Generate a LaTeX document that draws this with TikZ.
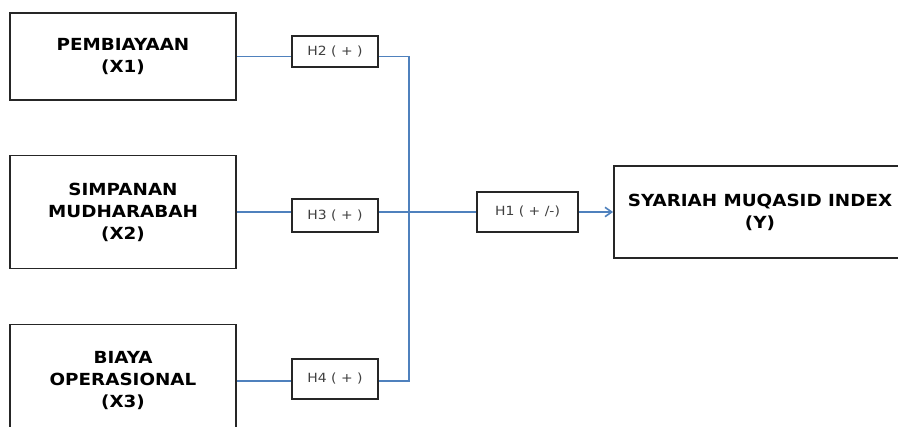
\documentclass[tikz,border=0pt]{standalone}
\usepackage{fontspec}
\setmainfont{DejaVu Sans}[FakeStretch=1.1]
\usepackage{xcolor}
\usetikzlibrary{arrows.meta, positioning}
\definecolor{lineblue}{HTML}{4F81BD}

\begin{document}
\begin{tikzpicture}[x=0.75pt, y=-0.75pt, >={Straight Barb[length=5pt, width=7pt]},
  varbox/.style={draw=black!85, line width=1.4pt, fill=white, align=center,
    font=\fontsize{12.5}{16.5}\selectfont\bfseries},
  hypbox/.style={draw=black!85, line width=1.4pt, fill=white, minimum width=64.5pt,
    font=\fontsize{9.5}{11}\selectfont, text=black!75},
  link/.style={draw=lineblue, line width=1.2pt}]
  \useasboundingbox (0,0) rectangle (898,427);

  % variables
  \node[varbox, minimum width=169.5pt, minimum height=65.25pt] (x1) at (123,56.5) {PEMBIAYAAN\\(X1)};
  \node[varbox, minimum width=169.5pt, minimum height=84.75pt] (x2) at (123,212) {SIMPANAN\\MUDHARABAH\\(X2)};
  \node[varbox, minimum width=169.5pt, minimum height=84.75pt] (x3) at (123,381) {BIAYA\\OPERASIONAL\\(X3)};
  \node[varbox, minimum width=219pt, minimum height=69pt] (y) at (760,212) {SYARIAH MUQASID INDEX\\(Y)};

  % hypotheses
  \node[hypbox, minimum height=23.25pt] (h2) at (335,51.5) {H2 ( + )};
  \node[hypbox, minimum height=24.75pt] (h3) at (335,215.5) {H3 ( + )};
  \node[hypbox, minimum height=30pt] (h4) at (335,379) {H4 ( + )};
  \node[hypbox, minimum width=75.75pt, minimum height=30pt] (h1) at (527.5,212) {H1 ( + /-)};
  \coordinate (hub) at (409,212);

  \draw[link] (x1.east) -- (x1.east -| h2.west);
  \draw[link] (x2.east) -- (x2.east -| h3.west);
  \draw[link] (x3.east) -- (x3.east -| h4.west);
  \draw[link] (x1.east -| h2.east) -| (hub) |- (x3.east -| h4.east);
  \draw[link] (x2.east -| h3.east) -- (hub) -- (h1.west);
  \draw[link, ->] (h1.east) -- (y.west);
\end{tikzpicture}
\end{document}
